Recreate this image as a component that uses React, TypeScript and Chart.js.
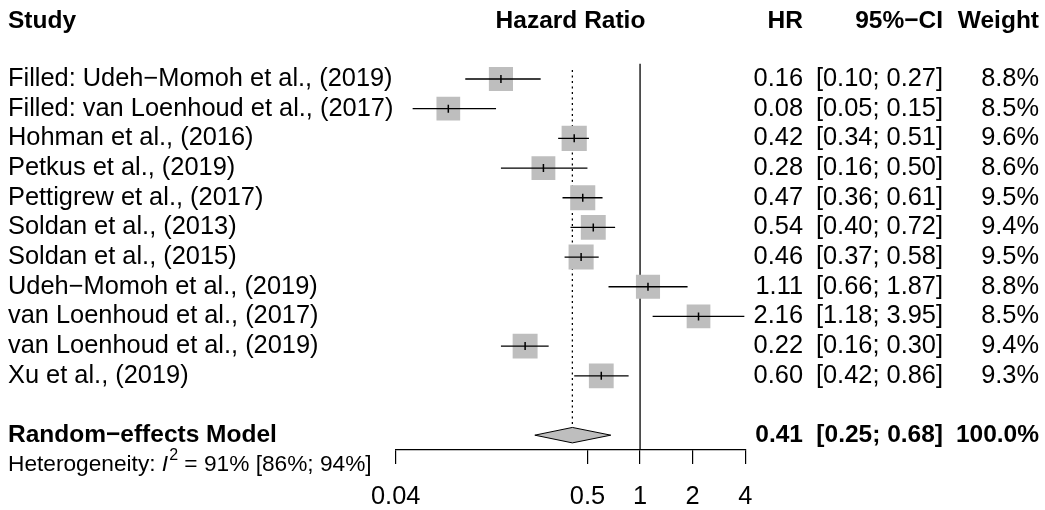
import { useEffect, useRef } from 'react';
import { Chart, registerables } from 'chart.js';

Chart.register(...registerables);

// ---------- data ----------
const studies = [
  'Filled: Udeh\u2212Momoh et al., (2019)',
  'Filled: van Loenhoud et al., (2017)',
  'Hohman et al., (2016)',
  'Petkus et al., (2019)',
  'Pettigrew et al., (2017)',
  'Soldan et al., (2013)',
  'Soldan et al., (2015)',
  'Udeh\u2212Momoh et al., (2019)',
  'van Loenhoud et al., (2017)',
  'van Loenhoud et al., (2019)',
  'Xu et al., (2019)',
];
const hr = [0.16, 0.08, 0.42, 0.28, 0.47, 0.54, 0.46, 1.11, 2.16, 0.22, 0.6];
const lower = [0.1, 0.05, 0.34, 0.16, 0.36, 0.4, 0.37, 0.66, 1.18, 0.16, 0.42];
const upper = [0.27, 0.15, 0.51, 0.5, 0.61, 0.72, 0.58, 1.87, 3.95, 0.3, 0.86];
const weights = [8.8, 8.5, 9.6, 8.6, 9.5, 9.4, 9.5, 8.8, 8.5, 9.4, 9.3];

const summaryLabel = 'Random\u2212effects Model';
const summaryHR = 0.41;
const summaryLower = 0.25;
const summaryUpper = 0.68;
const summaryWeight = 100.0;

const hetI2 = 91;
const hetLower = 86;
const hetUpper = 94;

const xTicks = [0.04, 0.5, 1, 2, 4];
const headers = ['Study', 'Hazard Ratio', 'HR', '95%\u2212CI', 'Weight'];

// ---------- layout constants ----------
const W = 1045;
const H = 510;
const FONT = '"Liberation Sans", Arial, Helvetica, sans-serif';
const FS = 25.4;
const BFS = 24.5;
const HET_FS = 22.7;
const LEFT_X = 8;
const COL_HR = 803;
const COL_CI = 943;
const COL_W = 1039;
const HEADER_ROW = -0.955;
const SUMMARY_ROW = 13;
const HET_ROW = 14.0;
const Y_MAX = 13.5;
const SOLID_TOP = 0.49;
const DOTTED_TOP = 0.7;
const DIAMOND_HALF = 0.26;

const fmt2 = (v: number) => v.toFixed(2);
const ciText = (lo: number, hi: number) => `[${fmt2(lo)}; ${fmt2(hi)}]`;

const textPlugin = {
  id: 'forestText',
  afterDraw(chart: any) {
    const ctx: CanvasRenderingContext2D = chart.ctx;
    const ys = chart.scales.y;
    const xs = chart.scales.x;
    ctx.save();
    ctx.fillStyle = '#000';
    ctx.textBaseline = 'middle';
    const reg = `${FS}px ${FONT}`;
    const bold = `bold ${BFS}px ${FONT}`;

    // headers
    const hy = ys.getPixelForValue(HEADER_ROW);
    ctx.font = bold;
    ctx.textAlign = 'left';
    ctx.fillText(headers[0], LEFT_X, hy);
    ctx.textAlign = 'center';
    ctx.fillText(headers[1], (xs.left + xs.right) / 2, hy);
    ctx.textAlign = 'right';
    ctx.fillText(headers[2], COL_HR, hy);
    ctx.fillText(headers[3], COL_CI, hy);
    ctx.fillText(headers[4], COL_W, hy);

    // study rows
    ctx.font = reg;
    studies.forEach((s, i) => {
      const y = ys.getPixelForValue(i + 1);
      ctx.textAlign = 'left';
      ctx.fillText(s, LEFT_X, y);
      ctx.textAlign = 'right';
      ctx.fillText(fmt2(hr[i]), COL_HR, y);
      ctx.fillText(ciText(lower[i], upper[i]), COL_CI, y);
      ctx.fillText(weights[i].toFixed(1) + '%', COL_W, y);
    });

    // summary row
    const sy = ys.getPixelForValue(SUMMARY_ROW);
    ctx.font = bold;
    ctx.textAlign = 'left';
    ctx.fillText(summaryLabel, LEFT_X, sy);
    ctx.textAlign = 'right';
    ctx.fillText(fmt2(summaryHR), COL_HR, sy);
    ctx.fillText(ciText(summaryLower, summaryUpper), COL_CI, sy);
    ctx.fillText(summaryWeight.toFixed(1) + '%', COL_W, sy);

    // heterogeneity
    const ty = ys.getPixelForValue(HET_ROW);
    ctx.textAlign = 'left';
    let x = LEFT_X;
    ctx.font = `${HET_FS}px ${FONT}`;
    const p1 = 'Heterogeneity: ';
    ctx.fillText(p1, x, ty);
    x += ctx.measureText(p1).width;
    ctx.font = `italic ${HET_FS}px ${FONT}`;
    ctx.fillText('I', x, ty);
    x += ctx.measureText('I').width + 1;
    ctx.font = `${Math.round(HET_FS * 0.7)}px ${FONT}`;
    ctx.fillText('2', x, ty - 9);
    x += ctx.measureText('2').width;
    ctx.font = `${HET_FS}px ${FONT}`;
    ctx.fillText(` = ${hetI2}% [${hetLower}%; ${hetUpper}%]`, x, ty);

    ctx.restore();
  },
};

export default function App() {
  const ref = useRef<HTMLCanvasElement | null>(null);

  useEffect(() => {
    if (!ref.current) return;
    const rows = studies.map((_, i) => i + 1);

    const ciData: any[] = [];
    rows.forEach((r, i) => {
      ciData.push({ x: lower[i], y: r });
      ciData.push({ x: upper[i], y: r });
      ciData.push({ x: NaN, y: NaN });
    });

    const diamond = [
      { x: summaryLower, y: SUMMARY_ROW },
      { x: summaryHR, y: SUMMARY_ROW - DIAMOND_HALF },
      { x: summaryUpper, y: SUMMARY_ROW },
      { x: summaryHR, y: SUMMARY_ROW + DIAMOND_HALF },
      { x: summaryLower, y: SUMMARY_ROW },
    ];

    const chart = new Chart(ref.current, {
      type: 'scatter',
      data: {
        datasets: [
          {
            label: 'diamond',
            data: diamond,
            showLine: true,
            fill: 'shape',
            backgroundColor: '#BEBEBE',
            borderColor: '#000',
            borderWidth: 1,
            pointRadius: 0,
            tension: 0,
            clip: false,
          } as any,
          {
            label: 'estimate',
            data: rows.map((r, i) => ({ x: hr[i], y: r })),
            pointStyle: 'line',
            rotation: 90,
            pointRadius: 4,
            borderColor: '#000',
            borderWidth: 1.5,
            backgroundColor: '#000',
          } as any,
          {
            label: 'ci',
            data: ciData,
            showLine: true,
            spanGaps: false,
            borderColor: '#000',
            borderWidth: 1.3,
            pointRadius: 0,
            fill: false,
          } as any,
          {
            label: 'weight',
            data: rows.map((r, i) => ({ x: hr[i], y: r })),
            pointStyle: 'rect',
            pointRadius: weights.map((w) => (8.13 * Math.sqrt(w)) / Math.SQRT2),
            backgroundColor: '#BEBEBE',
            borderWidth: 0,
            borderColor: 'rgba(0,0,0,0)',
          } as any,
          {
            label: 'summary line',
            data: [
              { x: summaryHR, y: DOTTED_TOP },
              { x: summaryHR, y: SUMMARY_ROW - DIAMOND_HALF },
            ],
            showLine: true,
            borderColor: '#000',
            borderWidth: 1.3,
            borderDash: [2, 3.5],
            pointRadius: 0,
          } as any,
          {
            label: 'null line',
            data: [
              { x: 1, y: SOLID_TOP },
              { x: 1, y: Y_MAX },
            ],
            showLine: true,
            borderColor: '#000',
            borderWidth: 1.3,
            pointRadius: 0,
          } as any,
        ],
      },
      options: {
        responsive: false,
        animation: false,
        events: [],
        layout: { padding: { left: 395.7, right: W - 745.3, top: 49.33, bottom: 0 } },
        plugins: { legend: { display: false }, tooltip: { enabled: false } },
        scales: {
          x: {
            type: 'logarithmic',
            min: 0.04,
            max: 4,
            afterBuildTicks: (s: any) => {
              s.ticks = xTicks.map((v) => ({ value: v }));
            },
            afterFit: (s: any) => {
              s.height = H - 450;
            },
            grid: { drawOnChartArea: false, drawTicks: true, tickLength: 14, color: '#000', lineWidth: 1.2 },
            border: { display: true, color: '#000', width: 1.2 },
            ticks: {
              autoSkip: false,
              maxRotation: 0,
              minRotation: 0,
              padding: 17.5,
              color: '#000',
              font: { family: FONT, size: FS },
              callback: (v: any) => String(v),
            },
          },
          y: {
            type: 'linear',
            reverse: true,
            min: 0,
            max: Y_MAX,
            display: false,
          },
        },
      },
      plugins: [textPlugin],
    });
    return () => chart.destroy();
  }, []);

  return (
    <div style={{ position: 'fixed', left: 0, top: 0, width: W, height: H, background: '#fff' }}>
      <canvas ref={ref} width={W} height={H} style={{ display: 'block', width: W, height: H }} />
    </div>
  );
}
